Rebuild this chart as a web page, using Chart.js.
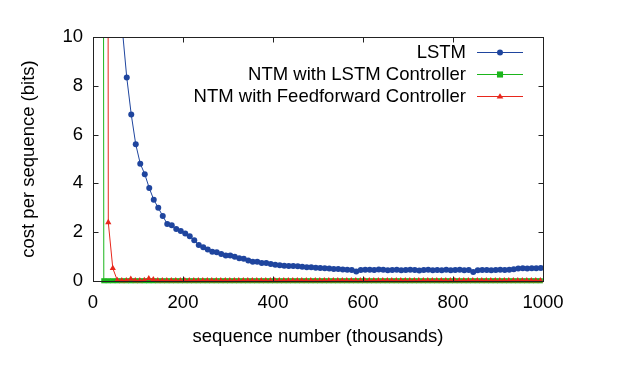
<!DOCTYPE html>
<html>
<head>
<meta charset="utf-8">
<script src="https://cdn.jsdelivr.net/npm/chart.js@4/dist/chart.umd.min.js"></script>
<style>
  html, body { margin: 0; padding: 0; background: #fff; }
  #wrap { width: 622px; height: 379px; position: relative; }
</style>
</head>
<body>
<div id="wrap"><canvas id="c" width="622" height="379"></canvas></div>
<script>
// ---- data (sequence number in thousands, cost in bits) ----
const seriesLabels = ['LSTM', 'NTM with LSTM Controller', 'NTM with Feedforward Controller'];
const xTicks = [0, 200, 400, 600, 800, 1000];
const yTicks = [0, 2, 4, 6, 8, 10];

// LSTM: sampled every 10k starting at 55k
const lstmStart = 55, lstmStep = 10;
const lstmCost = [
  14, 10.35, 8.34, 6.82, 5.60, 4.81, 4.38, 3.81, 3.33, 3.00,
  2.66, 2.34, 2.28, 2.13, 2.05, 1.95, 1.83, 1.67, 1.48, 1.38,
  1.29, 1.20, 1.18, 1.11, 1.05, 1.04, 0.99, 0.93, 0.91, 0.84,
  0.79, 0.79, 0.74, 0.74, 0.70, 0.67, 0.65, 0.63, 0.61, 0.61,
  0.60, 0.58, 0.56, 0.56, 0.54, 0.53, 0.52, 0.51, 0.49, 0.49,
  0.47, 0.46, 0.45, 0.39, 0.45, 0.46, 0.46, 0.45, 0.47, 0.46,
  0.44, 0.45, 0.46, 0.44, 0.45, 0.46, 0.45, 0.43, 0.45, 0.46,
  0.44, 0.45, 0.44, 0.46, 0.44, 0.45, 0.46, 0.44, 0.45, 0.37,
  0.44, 0.45, 0.45, 0.44, 0.45, 0.46, 0.45, 0.46, 0.48, 0.51,
  0.52, 0.51, 0.52, 0.52, 0.53
];

// NTM with LSTM controller: sampled every 10k starting at 14k
const ntmLstmStart = 14, ntmLstmStep = 10;
const ntmLstmCost = [
  200, 0.01, 0.01, 0.01, 0.01, 0.01, 0.01, 0.01, 0.01, 0.01,
  0.01, 0.01, 0.01, 0.01, 0.01, 0.01, 0.01, 0.01, 0.01, 0.01,
  0.01, 0.01, 0.01, 0.01, 0.01, 0.01, 0.01, 0.01, 0.01, 0.01,
  0.01, 0.01, 0.01, 0.01, 0.01, 0.01, 0.01, 0.01, 0.01, 0.01,
  0.01, 0.01, 0.01, 0.01, 0.01, 0.01, 0.01, 0.01, 0.01, 0.01,
  0.01, 0.01, 0.01, 0.01, 0.01, 0.01, 0.01, 0.01, 0.01, 0.01,
  0.01, 0.01, 0.01, 0.01, 0.01, 0.01, 0.01, 0.01, 0.01, 0.01,
  0.01, 0.01, 0.01, 0.01, 0.01, 0.01, 0.01, 0.01, 0.01, 0.01,
  0.01, 0.01, 0.01, 0.01, 0.01, 0.01, 0.01, 0.01, 0.01, 0.01,
  0.01, 0.01, 0.01, 0.01, 0.01, 0.01, 0.01, 0.01, 0.01
];

// NTM with feedforward controller: sampled every 10k starting at 24k
const ntmFfStart = 24, ntmFfStep = 10;
const ntmFfCost = [
  200, 2.40, 0.52, 0.03, 0.02, 0.02, 0.08, 0.02, 0.02, 0.03,
  0.10, 0.06, 0.02, 0.02, 0.02, 0.02, 0.02, 0.02, 0.02, 0.02,
  0.02, 0.02, 0.02, 0.02, 0.02, 0.02, 0.02, 0.02, 0.02, 0.02,
  0.02, 0.02, 0.02, 0.02, 0.02, 0.02, 0.02, 0.02, 0.02, 0.02,
  0.02, 0.02, 0.02, 0.02, 0.02, 0.02, 0.02, 0.02, 0.02, 0.02,
  0.02, 0.02, 0.02, 0.02, 0.02, 0.02, 0.02, 0.02, 0.02, 0.02,
  0.02, 0.02, 0.02, 0.02, 0.02, 0.02, 0.02, 0.02, 0.02, 0.02,
  0.02, 0.02, 0.02, 0.02, 0.02, 0.02, 0.02, 0.02, 0.02, 0.02,
  0.02, 0.02, 0.02, 0.02, 0.02, 0.02, 0.02, 0.02, 0.02, 0.02,
  0.02, 0.02, 0.02, 0.02, 0.02, 0.02, 0.02, 0.02
];

// ---- style ----
const FONT = "'Liberation Sans', Arial, Helvetica, sans-serif";
const FSIZE = 18.5;
const COLORS = ['#1f459e', '#1bb51b', '#e8271c'];
const MARKERS = ['circle', 'rect', 'triangle'];
const RADII = [3, 3.6, 3.6];
const LEGEND_RADII = [3, 3.6, 2.8];

function toPoints(start, step, arr) {
  return arr.map((v, i) => ({ x: start + step * i, y: v }));
}

const series = [
  toPoints(lstmStart, lstmStep, lstmCost),
  toPoints(ntmLstmStart, ntmLstmStep, ntmLstmCost),
  toPoints(ntmFfStart, ntmFfStep, ntmFfCost)
];

const clipBox = { left: 0, top: 0, right: 6, bottom: 6 };

const datasets = series.map((pts, i) => ({
  label: seriesLabels[i],
  data: pts,
  borderColor: COLORS[i],
  backgroundColor: COLORS[i],
  borderWidth: 1,
  pointStyle: MARKERS[i],
  pointRadius: RADII[i],
  pointBorderWidth: 0,
  pointHoverRadius: 0,
  tension: 0,
  clip: clipBox,
  order: i === 0 ? 2 : (i === 1 ? 1 : 0)
}));

function drawMarker(ctx, style, r, x, y, color) {
  ctx.save();
  ctx.fillStyle = color;
  ctx.beginPath();
  if (style === 'circle') {
    ctx.arc(x, y, r, 0, Math.PI * 2);
  } else if (style === 'rect') {
    const h = r * Math.SQRT1_2;
    ctx.rect(x - h * 1.2, y - h * 1.2, h * 2.4, h * 2.4);
  } else {
    const s = r * 1.2;
    ctx.moveTo(x, y - s);
    ctx.lineTo(x + s, y + s * 0.6);
    ctx.lineTo(x - s, y + s * 0.6);
    ctx.closePath();
  }
  ctx.fill();
  ctx.restore();
}

// frame + inside ticks + legend drawn through the scales
const framePlugin = {
  id: 'frame',
  afterDatasetsDraw(chart) {
    const ctx = chart.ctx;
    const a = chart.chartArea;
    const xs = chart.scales.x, ys = chart.scales.y;
    const L = Math.round(a.left) + 0.5, R = Math.round(a.right) + 0.5;
    const T = Math.round(a.top) + 0.5, B = Math.round(a.bottom) + 0.5;
    ctx.save();
    ctx.strokeStyle = '#222';
    ctx.lineWidth = 1;
    ctx.beginPath();
    const tl = 5;
    xTicks.forEach(v => {
      if (v === xTicks[0] || v === xTicks[xTicks.length - 1]) return;
      const px = Math.round(xs.getPixelForValue(v)) + 0.5;
      ctx.moveTo(px, B); ctx.lineTo(px, B - tl);
      ctx.moveTo(px, T); ctx.lineTo(px, T + tl);
    });
    yTicks.forEach(v => {
      if (v === yTicks[0] || v === yTicks[yTicks.length - 1]) return;
      const py = Math.round(ys.getPixelForValue(v)) + 0.5;
      ctx.moveTo(L, py); ctx.lineTo(L + tl, py);
      ctx.moveTo(R, py); ctx.lineTo(R - tl, py);
    });
    ctx.stroke();
    ctx.strokeRect(L, T, R - L, B - T);

    // legend (top right, text right-aligned, sample on the right)
    const textRight = 466, sx0 = 477, sx1 = 523, rowY = [52, 74, 96];
    ctx.font = FSIZE + 'px ' + FONT;
    ctx.textAlign = 'right';
    ctx.textBaseline = 'middle';
    chart.data.datasets.forEach((ds, i) => {
      const y = rowY[i] + 0.5;
      ctx.fillStyle = '#000';
      ctx.fillText(ds.label, textRight, y);
      ctx.strokeStyle = ds.borderColor;
      ctx.lineWidth = 1;
      ctx.beginPath();
      ctx.moveTo(sx0, y);
      ctx.lineTo(sx1, y);
      ctx.stroke();
      drawMarker(ctx, ds.pointStyle, LEGEND_RADII[i], (sx0 + sx1) / 2, y, ds.backgroundColor);
    });
    ctx.restore();
  }
};

new Chart(document.getElementById('c'), {
  type: 'line',
  data: { datasets },
  plugins: [framePlugin],
  options: {
    responsive: false,
    animation: false,
    events: [],
    layout: { padding: { top: 37, right: 79, bottom: 0, left: 0 } },
    plugins: { legend: { display: false }, tooltip: { enabled: false } },
    scales: {
      x: {
        type: 'linear',
        min: 0, max: 1000,
        afterBuildTicks(s) { s.ticks = xTicks.map(v => ({ value: v })); },
        afterFit(s) { s.height = 98; },
        grid: { display: false, drawTicks: false },
        border: { display: false },
        ticks: { padding: 11, color: '#000', font: { family: FONT, size: FSIZE }, maxRotation: 0,
                 callback: v => String(v) },
        title: {
          display: true, text: 'sequence number (thousands)', color: '#000',
          font: { family: FONT, size: FSIZE }, padding: { top: 31, bottom: 31 }
        }
      },
      y: {
        type: 'linear',
        min: 0, max: 10,
        afterBuildTicks(s) { s.ticks = yTicks.map(v => ({ value: v })); },
        afterFit(s) { s.width = 93; },
        grid: { display: false, drawTicks: false },
        border: { display: false },
        ticks: { padding: 10, color: '#000', font: { family: FONT, size: FSIZE },
                 callback: v => String(v) },
        title: {
          display: true, text: 'cost per sequence (bits)', color: '#000',
          font: { family: FONT, size: FSIZE }, padding: { top: 18, bottom: 18 }
        }
      }
    }
  }
});
</script>
</body>
</html>
